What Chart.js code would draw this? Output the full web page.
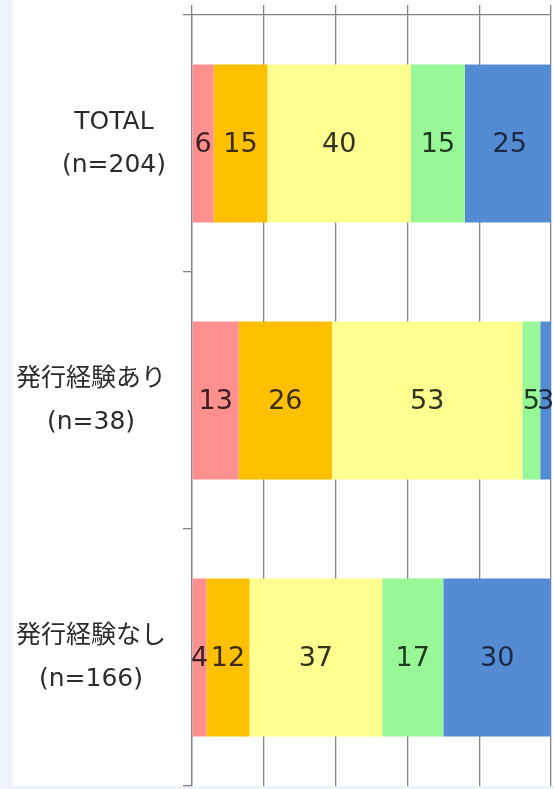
<!DOCTYPE html>
<html lang="ja">
<head>
<meta charset="utf-8">
<script src="https://cdn.jsdelivr.net/npm/chart.js@4"></script>
<style>
  html, body { margin: 0; padding: 0; }
  body { width: 554px; height: 789px; background: #edf3f9; position: relative; overflow: hidden; }
  #panel { position: absolute; left: 13px; top: 0; width: 541px; height: 786px; background: #fff; }
  #wrap { position: absolute; left: 0; top: 0; width: 554px; height: 789px; }
</style>
</head>
<body>
<div id="panel"></div>
<div id="wrap"><canvas id="myChart" width="554" height="789"></canvas></div>
<script>
// groups shown down the left side, two lines each
const categories = [
  ['TOTAL', '(n=204)'],
  ['発行経験あり', '(n=38)'],
  ['発行経験なし', '(n=166)']
];

// percentage shares per group, left to right
const pinkShare   = [6, 13, 4];
const orangeShare = [15, 26, 12];
const yellowShare = [40, 53, 37];
const greenShare  = [15, 5, 17];
const blueShare   = [25, 3, 30];

const xTicks = [0, 20, 40, 60, 80, 100];

const gridGrey = '#848484';

// number in the middle of every segment
const valueLabels = {
  id: 'valueLabels',
  afterDatasetsDraw(chart) {
    const ctx = chart.ctx;
    ctx.save();
    ctx.font = '27px "DejaVu Sans", sans-serif';
    ctx.textAlign = 'center';
    ctx.textBaseline = 'middle';
    chart.data.datasets.forEach((ds, i) => {
      chart.getDatasetMeta(i).data.forEach((bar, j) => {
        ctx.fillStyle = ds.labelColor;
        ctx.fillText(String(ds.data[j]), (bar.x + bar.base) / 2, bar.y + 1);
      });
    });
    ctx.restore();
  }
};

// group names: block right aligned, lines centred inside it
const groupLabels = {
  id: 'groupLabels',
  afterDraw(chart) {
    const ctx = chart.ctx;
    const yScale = chart.scales.y;
    ctx.save();
    ctx.font = '25px "DejaVu Sans", "Noto Sans CJK JP", sans-serif';
    ctx.fillStyle = '#2b2b2b';
    ctx.textAlign = 'center';
    ctx.textBaseline = 'middle';
    const rightEdge = yScale.right - 26;
    categories.forEach((lines, i) => {
      const cy = yScale.getPixelForValue(i);
      const blockW = Math.max(...lines.map(t => ctx.measureText(t).width));
      const cx = rightEdge - blockW / 2;
      lines.forEach((t, k) => {
        ctx.fillText(t, cx, cy + (k - (lines.length - 1) / 2) * 43);
      });
    });
    ctx.restore();
  }
};

function makeSet(label, data, color, labelColor) {
  return {
    label: label,
    data: data,
    backgroundColor: color,
    borderWidth: 0,
    barPercentage: 0.615,
    categoryPercentage: 1,
    labelColor: labelColor
  };
}

const ctx = document.getElementById('myChart');

new Chart(ctx, {
  type: 'bar',
  data: {
    labels: categories,
    datasets: [
      makeSet('1', pinkShare, '#ff9090', '#3e2020'),
      makeSet('2', orangeShare, '#ffc000', '#3b2c10'),
      makeSet('3', yellowShare, '#ffff91', '#33331c'),
      makeSet('4', greenShare, '#98f898', '#1f3a1f'),
      makeSet('5', blueShare, '#558bd3', '#1c2a46')
    ]
  },
  options: {
    indexAxis: 'y',
    responsive: false,
    animation: false,
    layout: { padding: { top: 5, right: 3, bottom: 3, left: 0 } },
    plugins: {
      legend: { display: false },
      tooltip: { enabled: false }
    },
    scales: {
      x: {
        position: 'top',
        stacked: true,
        min: xTicks[0],
        max: xTicks[xTicks.length - 1],
        afterBuildTicks(scale) {
          scale.ticks = xTicks.map(v => ({ value: v }));
        },
        ticks: { display: false },
        grid: { color: gridGrey, lineWidth: 1.3, tickLength: 10 },
        border: { color: gridGrey, width: 1.3 }
      },
      y: {
        stacked: true,
        ticks: { display: false },
        grid: { drawOnChartArea: false, offset: true, tickLength: 9, color: gridGrey, lineWidth: 1.3 },
        border: { color: gridGrey, width: 1.3 },
        afterFit(scale) {
          scale.width = 192;
        }
      }
    }
  },
  plugins: [valueLabels, groupLabels]
});
</script>
</body>
</html>
